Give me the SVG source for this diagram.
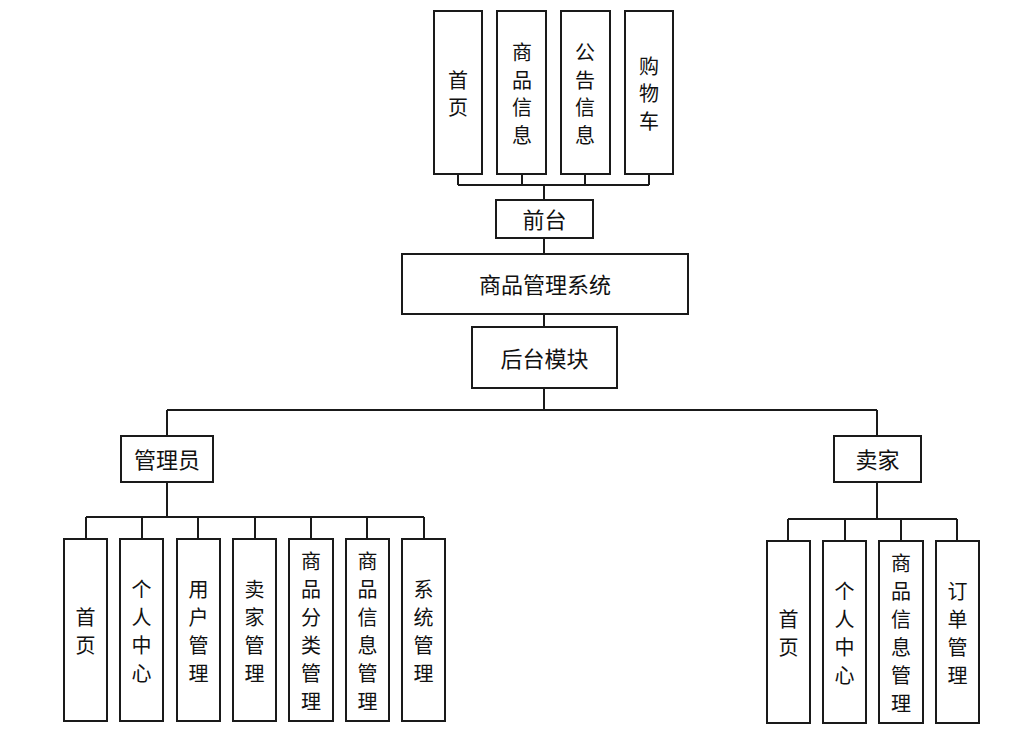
<svg xmlns="http://www.w3.org/2000/svg" width="1016" height="734" viewBox="0 0 1016 734">
<defs>
<style>
rect.b{fill:#fff;stroke:#1a1a1a;stroke-width:2}
text{font-family:"Noto Sans CJK SC","Noto Sans",sans-serif;font-size:22px;fill:#111;text-anchor:middle;dominant-baseline:central}
text.c{font-size:20px}
#connectors path{fill:none;stroke:#1a1a1a;stroke-width:2}
</style>
</defs>
<rect width="1016" height="734" fill="#fff"/>
<g id="connectors">
<path d="M458,174V185M522,174V185M585,174V185M649,174V185M458,185H649M544,185V200"/>
<path d="M544,238V254M544,314V327M544,388V410M167,410H877M167,410V436M877,410V436"/>
<path d="M167,482V517M86,517H424M86,517V539M142,517V539M198,517V539M255,517V539M311,517V539M367,517V539M424,517V539"/>
<path d="M877,482V519M788,519H957M788,519V541M845,519V541M901,519V541M957,519V541"/>
</g>
<g id="n-home-top"><rect class="b" x="434" y="11" width="48" height="163"/><text class="c" x="458" y="79">首</text><text class="c" x="458" y="106">页</text></g>
<g id="n-goods-top"><rect class="b" x="497" y="11" width="49" height="163"/><text class="c" x="522" y="51">商</text><text class="c" x="522" y="79">品</text><text class="c" x="522" y="106">信</text><text class="c" x="522" y="134">息</text></g>
<g id="n-notice-top"><rect class="b" x="561" y="11" width="49" height="163"/><text class="c" x="585" y="51">公</text><text class="c" x="585" y="79">告</text><text class="c" x="585" y="106">信</text><text class="c" x="585" y="134">息</text></g>
<g id="n-cart-top"><rect class="b" x="625" y="11" width="48" height="163"/><text class="c" x="649" y="65">购</text><text class="c" x="649" y="92">物</text><text class="c" x="649" y="120">车</text></g>
<g id="n-front"><rect class="b" x="496" y="200" width="97" height="38"/><text x="544.5" y="218">前台</text></g>
<g id="n-system"><rect class="b" x="402" y="254" width="286" height="60"/><text x="545" y="283">商品管理系统</text></g>
<g id="n-back"><rect class="b" x="472" y="327" width="145" height="61"/><text x="544.5" y="356.5">后台模块</text></g>
<g id="n-admin"><rect class="b" x="121" y="436" width="92" height="46"/><text x="167" y="458">管理员</text></g>
<g id="n-seller"><rect class="b" x="834" y="436" width="87" height="46"/><text x="877.5" y="458">卖家</text></g>
<g id="n-a1"><rect class="b" x="64" y="539" width="43" height="182"/><text class="c" x="85.5" y="616">首</text><text class="c" x="85.5" y="644">页</text></g>
<g id="n-a2"><rect class="b" x="120" y="539" width="43" height="182"/><text class="c" x="141.5" y="588">个</text><text class="c" x="141.5" y="616">人</text><text class="c" x="141.5" y="644">中</text><text class="c" x="141.5" y="672">心</text></g>
<g id="n-a3"><rect class="b" x="177" y="539" width="43" height="182"/><text class="c" x="198.5" y="588">用</text><text class="c" x="198.5" y="616">户</text><text class="c" x="198.5" y="644">管</text><text class="c" x="198.5" y="672">理</text></g>
<g id="n-a4"><rect class="b" x="233" y="539" width="43" height="182"/><text class="c" x="254.5" y="588">卖</text><text class="c" x="254.5" y="616">家</text><text class="c" x="254.5" y="644">管</text><text class="c" x="254.5" y="672">理</text></g>
<g id="n-a5"><rect class="b" x="289" y="539" width="44" height="182"/><text class="c" x="311" y="560">商</text><text class="c" x="311" y="588">品</text><text class="c" x="311" y="616">分</text><text class="c" x="311" y="644">类</text><text class="c" x="311" y="672">管</text><text class="c" x="311" y="700">理</text></g>
<g id="n-a6"><rect class="b" x="346" y="539" width="43" height="182"/><text class="c" x="367.5" y="560">商</text><text class="c" x="367.5" y="588">品</text><text class="c" x="367.5" y="616">信</text><text class="c" x="367.5" y="644">息</text><text class="c" x="367.5" y="672">管</text><text class="c" x="367.5" y="700">理</text></g>
<g id="n-a7"><rect class="b" x="402" y="539" width="43" height="182"/><text class="c" x="423.5" y="588">系</text><text class="c" x="423.5" y="616">统</text><text class="c" x="423.5" y="644">管</text><text class="c" x="423.5" y="672">理</text></g>
<g id="n-s1"><rect class="b" x="767" y="541" width="43" height="182"/><text class="c" x="788.5" y="618">首</text><text class="c" x="788.5" y="646">页</text></g>
<g id="n-s2"><rect class="b" x="823" y="541" width="43" height="182"/><text class="c" x="844.5" y="590">个</text><text class="c" x="844.5" y="618">人</text><text class="c" x="844.5" y="646">中</text><text class="c" x="844.5" y="674">心</text></g>
<g id="n-s3"><rect class="b" x="879" y="541" width="44" height="182"/><text class="c" x="901" y="562">商</text><text class="c" x="901" y="590">品</text><text class="c" x="901" y="618">信</text><text class="c" x="901" y="646">息</text><text class="c" x="901" y="674">管</text><text class="c" x="901" y="702">理</text></g>
<g id="n-s4"><rect class="b" x="936" y="541" width="43" height="182"/><text class="c" x="957.5" y="590">订</text><text class="c" x="957.5" y="618">单</text><text class="c" x="957.5" y="646">管</text><text class="c" x="957.5" y="674">理</text></g>
</svg>
